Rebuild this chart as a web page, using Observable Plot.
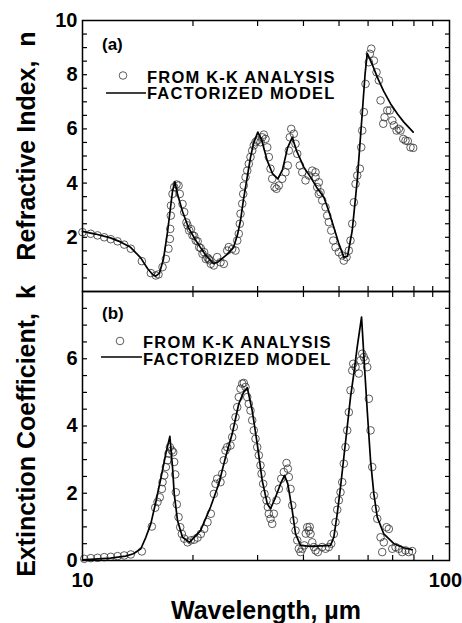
<!DOCTYPE html>
<html><head><meta charset="utf-8">
<script src="https://cdn.jsdelivr.net/npm/d3@7"></script>
<script src="https://cdn.jsdelivr.net/npm/@observablehq/plot@0.6"></script>
<style>
body{margin:0;background:#fff}
#c{position:relative;width:462px;height:623px;overflow:hidden}
#c svg{position:absolute;left:0;overflow:visible}
</style>
</head><body><div id="c"></div>
<script>
// ---- data: [wavelength (µm), value] ----
const nModel = [[10.00,2.22],[10.85,2.12],[11.92,1.98],[12.69,1.83],[13.52,1.63],[14.39,1.25],[15.04,0.85],[15.52,0.63],[15.81,0.56],[16.21,0.68],[16.62,1.2],[17.05,2.2],[17.37,3.1],[17.59,3.7],[17.85,4.05],[18.15,3.6],[18.73,2.95],[19.45,2.35],[20.32,1.9],[20.97,1.62],[21.77,1.3],[22.75,1.03],[23.47,1.1],[24.68,1.35],[25.79,1.62],[26.45,2.1],[26.95,2.62],[27.46,3.4],[28.11,4.22],[28.69,4.95],[29.24,5.46],[30.04,5.88],[30.75,5.6],[31.87,4.83],[32.94,4.35],[34.06,4.16],[35.08,4.5],[36.20,5.3],[37.28,5.69],[38.29,5.2],[40.09,4.59],[41.82,4.22],[43.42,3.85],[45.46,3.48],[46.81,3.0],[48.39,2.37],[49.85,1.8],[51.53,1.27],[52.74,1.3],[54.32,2.25],[56.05,4.1],[57.83,6.56],[58.86,8.0],[59.68,8.79],[61.31,8.45],[63.55,7.91],[66.11,7.4],[69.07,6.93],[72.17,6.55],[75.08,6.25],[79.64,5.88]];

const nKK = [[10.00,2.19],[10.53,2.13],[10.99,2.07],[11.46,2.0],[11.94,1.93],[12.46,1.85],[12.99,1.73],[13.54,1.58],[14.51,1.12],[15.35,0.68],[15.84,0.59],[16.11,0.63],[16.52,0.9],[16.87,1.2],[17.15,1.58],[17.30,1.94],[17.34,2.31],[17.40,2.8],[17.42,3.17],[17.59,3.6],[17.78,3.85],[18.04,3.95],[18.27,3.91],[18.41,3.6],[18.73,3.23],[18.93,2.93],[19.33,2.44],[19.53,2.25],[19.94,2.07],[20.36,1.88],[20.80,1.63],[21.23,1.39],[21.68,1.2],[22.37,1.02],
[19.2,2.55],[19.75,2.3],[20.15,2.05],[20.6,1.85],[21.0,1.6],[21.45,1.45],[21.9,1.25],[22.2,1.15],
[22.09,1.2],[22.79,0.96],[23.28,1.27],[23.77,1.08],[24.27,1.02],[24.79,1.51],[25.04,1.64],[25.58,1.57],[26.12,1.51],[26.40,1.88],[26.66,2.13],[26.83,2.5],[26.95,2.87],[27.24,3.24],[27.41,3.6],[27.51,3.91],[27.81,4.22],[28.11,4.46],[28.39,4.71],[28.69,4.96],[29.00,5.2],[29.29,5.39],[29.61,5.51],[29.93,5.57],[30.55,5.51],[30.88,5.69],[31.19,5.79],[31.53,5.63],[31.87,5.32],[32.19,4.96],[32.53,4.53],[32.88,4.16],[33.36,3.85],[33.78,3.79],[34.27,3.91],[35.01,4.16],[35.74,4.4],[36.26,4.65],[36.49,5.2],[36.72,5.69],[37.05,6.0],[37.65,5.82],[38.06,5.45],[38.47,5.08],[39.10,4.65],[39.69,4.4],[40.52,4.1],[41.37,4.28],[42.26,4.46],[43.15,4.4],[44.05,4.03],[44.52,3.66],
[43.15,4.22],[43.61,3.85],[44.05,3.6],[44.99,3.36],[45.94,3.11],[46.43,2.8],[46.90,2.56],[47.61,2.25],[48.22,1.88],[48.91,1.63],[49.94,1.45],[51.02,1.33],[51.53,1.14],[52.41,1.27],[53.17,1.51],[53.74,1.88],[54.32,2.5],[54.87,3.29],[55.46,3.97],[56.05,4.28],[56.98,4.53],[57.47,5.32],[57.83,5.94],[58.42,6.62],[59.05,7.66],[60.29,8.46],[60.67,8.77],[61.21,8.96],[62.21,8.52],[63.27,8.09],[64.20,7.79],[64.88,7.05],[65.99,6.19],[66.53,6.43],[67.67,6.68],[68.78,6.68],[69.83,6.31],[70.54,6.13],[71.74,5.94],[72.78,6.0],[73.56,5.94],[74.80,5.63],[75.88,5.57],[76.98,5.55],[78.30,5.32],[79.64,5.3]];

const kModel = [[10.00,0.02],[11.92,0.07],[13.10,0.13],[13.77,0.2],[14.42,0.35],[14.88,0.69],[15.35,1.09],[15.84,1.74],[16.34,2.43],[16.87,3.18],[17.30,3.69],[17.59,2.78],[17.78,1.98],[18.15,1.19],[18.73,0.69],[19.57,0.54],[20.97,0.89],[22.33,1.59],[23.52,2.28],[24.53,3.07],[25.58,3.77],[26.66,4.66],[27.46,5.0],[28.11,5.14],[29.00,4.46],[29.93,3.47],[30.88,2.38],[31.87,1.69],[32.53,1.54],[33.57,1.88],[34.64,2.28],[35.52,2.53],[36.26,2.28],[37.28,1.49],[38.06,0.79],[39.27,0.45],[41.82,0.42],[47.41,0.45],[48.39,0.69],[49.44,1.39],[50.47,2.18],[51.53,3.07],[52.64,3.97],[53.74,4.86],[54.87,5.56],[56.05,6.35],[57.59,7.24],[58.68,5.75],[59.68,4.46],[60.93,2.98],[62.21,1.98],[63.55,1.29],[66.22,0.79],[70.54,0.5],[75.08,0.38],[79.14,0.32]];

const kKK = [[10.11,0.05],[10.53,0.07],[10.99,0.08],[11.46,0.1],[11.94,0.11],[12.46,0.13],[12.99,0.15],[13.54,0.18],[14.51,0.27],[15.45,1.01],[15.78,1.57],[16.01,1.74],[16.24,1.88],[16.45,2.13],[16.52,2.33],[16.70,2.53],[16.87,2.78],[17.05,2.98],[17.15,3.18],[17.30,3.37],[17.51,3.27],[17.67,3.22],[17.78,2.93],[17.89,2.56],[17.96,2.03],[18.07,1.67],[18.27,1.29],[18.46,0.99],[18.65,0.79],[18.93,0.65],[19.33,0.54],[19.73,0.6],[20.16,0.62],[20.58,0.68],[21.01,0.79],[21.46,0.94],[21.91,1.14],[22.37,1.39],
[22.79,1.98],[23.04,2.28],[23.28,2.43],[23.77,2.33],[24.03,2.58],[24.27,2.98],[24.53,3.27],[24.79,3.37],[25.31,3.42],[25.58,3.67],[25.84,3.97],[26.12,4.26],[26.40,4.56],[26.66,4.86],[26.95,5.11],[27.24,5.26],[27.51,5.28],[27.81,5.16],[28.11,4.86],[28.39,4.66],[28.69,4.46],[29.00,4.17],[29.29,3.87],[29.61,3.62],[29.93,3.37],[30.23,3.13],[30.55,2.83],[30.75,2.58],[31.07,2.28],[31.33,1.98],[31.73,1.79],[31.99,1.59],[32.19,1.39],[32.53,1.24],[32.88,1.09],[33.21,1.39],[33.78,1.79],[34.27,2.13],[34.79,2.43],[35.36,2.63],[35.97,2.9],[36.26,2.73],[36.49,2.48],[36.88,2.13],[37.28,1.64],[37.65,1.19],[38.06,0.89],[38.47,0.6],[38.86,0.35],[39.27,0.25],[39.7,0.35],[40.2,0.45],[40.6,0.8],[40.96,0.99],[41.37,0.89],[41.6,1.0],[41.82,0.79],[42.26,0.54],[42.7,0.4],[43.15,0.3],[43.77,0.25],
[44.99,0.4],[45.94,0.35],[46.90,0.4],[47.61,0.5],[48.39,0.79],[48.91,1.14],[49.44,1.51],[49.94,1.79],[50.47,2.03],[51.02,2.33],[51.53,2.88],[52.08,3.37],[52.64,3.87],[53.17,4.41],[53.74,5.06],[54.32,5.65],[54.66,5.85],[55.46,5.75],[56.62,5.56],[57.23,5.95],[57.83,6.15],[58.42,6.05],[59.05,5.95],[59.68,5.75],[60.29,4.81],[60.93,3.87],[61.59,2.78],[62.21,1.93],[62.88,1.54],[63.55,1.24],[64.88,0.69],[65.57,0.25],[66.22,0.54],[67.37,0.99],[68.35,0.94],[69.83,0.35],[71.27,0.4],[72.78,0.35],[74.34,0.25],[75.88,0.3],[77.47,0.25],[79.14,0.28]];

const xTicks = [20, 30, 40, 50, 60, 70, 80, 90];
const xLabels = [10, 100];
const nLabels = [2, 4, 6, 8, 10];
const kLabels = [0, 2, 4, 6];
const legendLabels = ["FROM K-K ANALYSIS", "FACTORIZED MODEL"];
const panelLabels = ["(a)", "(b)"];
const yTitles = ["Refractive Index,\u00a0 n", "Extinction Coefficient,\u00a0 k"];
const xTitle = "Wavelength, \u00b5m";

// ---- drawing ----
const font = "'Liberation Sans', Arial, Helvetica, sans-serif";
const rows = a => a.map(([wl, v]) => ({wl, v}));
const T = 5; // inward tick length (px)

function tickMarks(yMinor) {
  const o = {tickSize: T, tickFormat: () => "", label: null, strokeWidth: 1.2};
  return [
    Plot.axisX(xTicks, {...o, anchor: "bottom", dy: -T}),
    Plot.axisX(xTicks, {...o, anchor: "top", dy: T}),
    Plot.axisY(yMinor, {...o, anchor: "left", dx: T}),
    Plot.axisY(yMinor, {...o, anchor: "right", dx: -T})
  ];
}

function addLegend(svg, o) {
  const g = d3.select(svg).append("g")
    .attr("font-family", font).attr("font-weight", "bold").attr("fill", "black")
    .attr("text-anchor", "start");
  g.append("text").attr("x", o.px).attr("y", o.py).attr("font-size", 17).text(o.panel);
  g.append("circle").attr("cx", o.cx).attr("cy", o.cy).attr("r", 3.8)
    .attr("fill", "none").attr("stroke", "#333").attr("stroke-width", 0.8);
  g.append("line").attr("x1", o.lx1).attr("x2", o.lx2).attr("y1", o.ly).attr("y2", o.ly)
    .attr("stroke", "black").attr("stroke-width", 1.6);
  legendLabels.forEach((t, i) => {
    g.append("text").attr("x", o.tx).attr("y", o.ty[i]).attr("font-size", 16.5)
      .attr("letter-spacing", 1.2).text(t);
  });
}

const common = {
  width: 462,
  marginLeft: 82,
  marginRight: 13,
  style: {fontFamily: font, background: "transparent", color: "black"},
};
const labelStyle = {tickSize: 0, fontSize: 20, fontWeight: "bold", label: null, tickFormat: d => String(d)};
const titleStyle = {fontSize: 25, fontWeight: "bold"};

const topPlot = Plot.plot({
  ...common,
  height: 292,
  marginTop: 20,
  marginBottom: 1,
  x: {type: "log", domain: [10, 100]},
  y: {domain: [0, 10]},
  marks: [
    ...tickMarks(d3.range(0.5, 10, 0.5)),
    Plot.axisY(nLabels, {...labelStyle, anchor: "left", tickPadding: 5}),
    Plot.dot(rows(nKK), {x: "wl", y: "v", r: 3.8, stroke: "#333", strokeWidth: 0.8, fill: "none"}),
    Plot.line(rows(nModel), {x: "wl", y: "v", stroke: "black", strokeWidth: 1.7}),
    Plot.text([yTitles[0]], {...titleStyle, frameAnchor: "left", textAnchor: "middle", dx: -48, dy: -10, rotate: -90, lineAnchor: "bottom"}),
    Plot.frame({stroke: "black", strokeWidth: 1.5})
  ]
});
topPlot.style.top = "0px";

const botPlot = Plot.plot({
  ...common,
  height: 332,
  marginTop: 0,
  marginBottom: 63,
  x: {type: "log", domain: [10, 100]},
  y: {domain: [0, 8]},
  marks: [
    ...tickMarks(d3.range(0.5, 8, 0.5)),
    Plot.axisY(kLabels, {...labelStyle, anchor: "left", tickPadding: 5}),
    Plot.axisX(xLabels.slice(0, 1), {...labelStyle, anchor: "bottom", tickPadding: 12}),
    Plot.axisX(xLabels.slice(1), {...labelStyle, anchor: "bottom", tickPadding: 12, dx: -4}),
    Plot.dot(rows(kKK), {x: "wl", y: "v", r: 3.8, stroke: "#333", strokeWidth: 0.8, fill: "none"}),
    Plot.line(rows(kModel), {x: "wl", y: "v", stroke: "black", strokeWidth: 1.7}),
    Plot.text([yTitles[1]], {...titleStyle, frameAnchor: "left", textAnchor: "middle", dx: -48, dy: 5, rotate: -90, lineAnchor: "bottom"}),
    Plot.text([xTitle], {...titleStyle, frameAnchor: "bottom", textAnchor: "middle", dy: 58, lineAnchor: "bottom"}),
    Plot.frame({stroke: "black", strokeWidth: 1.5})
  ]
});
botPlot.style.top = "291px";

const c = document.getElementById("c");
c.appendChild(topPlot);
c.appendChild(botPlot);

addLegend(topPlot, {panel: panelLabels[0], px: 102, py: 50, cx: 123, cy: 75.5,
  lx1: 106, lx2: 146, ly: 93, tx: 147, ty: [82.5, 99]});
addLegend(botPlot, {panel: panelLabels[1], px: 102, py: 28, cx: 120, cy: 50,
  lx1: 101, lx2: 142, ly: 66, tx: 143, ty: [57, 73.5]});
</script></body></html>
